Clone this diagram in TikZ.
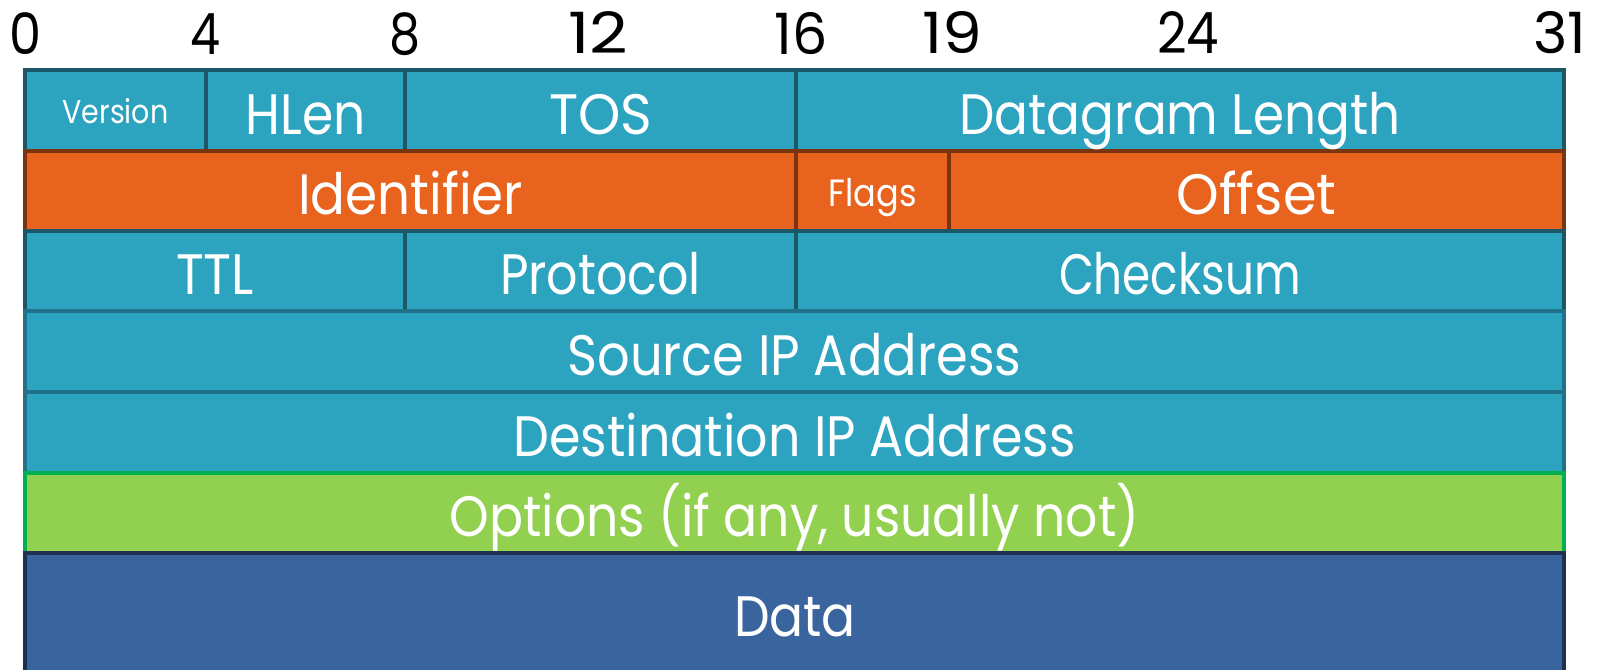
\documentclass[tikz,border=0pt]{standalone}
\usepackage{fontspec}
\setmainfont{Poppins}
\usetikzlibrary{calc}

\definecolor{hdrfill}{HTML}{2CA3BF}
\definecolor{hdrline}{HTML}{1A5868}
\definecolor{addrline}{HTML}{22718A}
\definecolor{idfill}{HTML}{E8641E}
\definecolor{idline}{HTML}{7A3410}
\definecolor{optfill}{HTML}{92D050}
\definecolor{optline}{HTML}{00B050}
\definecolor{datafill}{HTML}{3A649E}
\definecolor{dataline}{HTML}{1F3152}

\tikzset{
  cellbase/.style={rectangle, inner sep=0pt, outer sep=0pt, line width=3.5pt},
  hdrcell/.style={cellbase, fill=hdrfill, draw=hdrline},
  addrcell/.style={cellbase, fill=hdrfill, draw=addrline},
  idcell/.style={cellbase, fill=idfill, draw=idline},
  optcell/.style={cellbase, fill=optfill, draw=optline},
  datacell/.style={cellbase, fill=datafill, draw=dataline},
  fieldtext/.style={anchor=base, text=white, inner sep=0pt},
  bittext/.style={anchor=base, text=black, inner sep=0pt},
}

% one header field: name, x1, x2, y1, y2, style
\newcommand\ipcell[6]{%
  \node[#6, minimum width={(#3-#2)*1pt}, minimum height={(#5-#4)*1pt}]
    (#1) at ({(#2+#3)/2},{(#4+#5)/2}) {};}
% its caption: field name, baseline drop, font size, printed width, text
\newcommand\iplabel[5]{%
  \node[fieldtext] (#1-t) at ($(#1.center)+(0,#2)$)
    {\fontsize{#3}{#3}\selectfont\resizebox{#4pt}{\height}{#5}};}
% bit index above the header: name, x, printed width, text
\newcommand\ipbit[4]{%
  \node[bittext] (#1) at (#2,54)
    {\fontsize{57}{57}\selectfont\resizebox{#3pt}{\height}{#4}};}

\begin{document}
\begin{tikzpicture}[x=1pt,y=-1pt]
\useasboundingbox (0,0) rectangle (1600,669);
\clip (0,0) rectangle (1600,669);

% bit positions
\ipbit{b0}{26}{32}{0}
\ipbit{b4}{205}{30}{4}
\ipbit{b8}{405}{31}{8}
\ipbit{b12}{598}{60}{12}
\ipbit{b16}{801}{53}{16}
\ipbit{b19}{952}{60}{19}
\ipbit{b24}{1188}{62}{24}
\ipbit{b31}{1560}{53}{31}

% row 1
\ipcell{ver}{25}{206}{70}{151}{hdrcell}
\ipcell{hlen}{206}{405}{70}{151}{hdrcell}
\ipcell{tos}{405}{796}{70}{151}{hdrcell}
\ipcell{dlen}{796}{1564}{70}{151}{hdrcell}
% row 2
\ipcell{ident}{25}{796}{151}{231}{idcell}
\ipcell{flags}{796}{949}{151}{231}{idcell}
\ipcell{offset}{949}{1564}{151}{231}{idcell}
% row 3
\ipcell{ttl}{25}{405}{231}{311}{hdrcell}
\ipcell{proto}{405}{796}{231}{311}{hdrcell}
\ipcell{csum}{796}{1564}{231}{311}{hdrcell}
% addresses, options, payload
\ipcell{src}{25}{1564}{311}{392}{addrcell}
\ipcell{dst}{25}{1564}{392}{473}{addrcell}
\ipcell{opt}{25}{1564}{473}{553}{optcell}
\ipcell{data}{25}{1564}{553}{690}{datacell}

% captions
\iplabel{ver}{13}{33}{106}{Version}
\iplabel{hlen}{23.5}{57}{120}{HLen}
\iplabel{tos}{23.5}{57}{103}{TOS}
\iplabel{dlen}{23.5}{57}{441}{Datagram Length}
\iplabel{ident}{23.5}{57}{225}{Identifier}
\iplabel{flags}{15}{38}{88}{Flags}
\iplabel{offset}{23.5}{57}{160}{Offset}
\iplabel{ttl}{23.5}{57}{78}{TTL}
\iplabel{proto}{23.5}{57}{201}{Protocol}
\iplabel{csum}{23.5}{57}{242}{Checksum}
\iplabel{src}{23.5}{57}{454}{Source IP Address}
\iplabel{dst}{23.5}{57}{562}{Destination IP Address}
\iplabel{opt}{23.5}{57}{690}{Options (if any, usually not)}
\node[fieldtext] (data-t) at (795,636)
  {\fontsize{57}{57}\selectfont\resizebox{122pt}{\height}{Data}};
\end{tikzpicture}
\end{document}
